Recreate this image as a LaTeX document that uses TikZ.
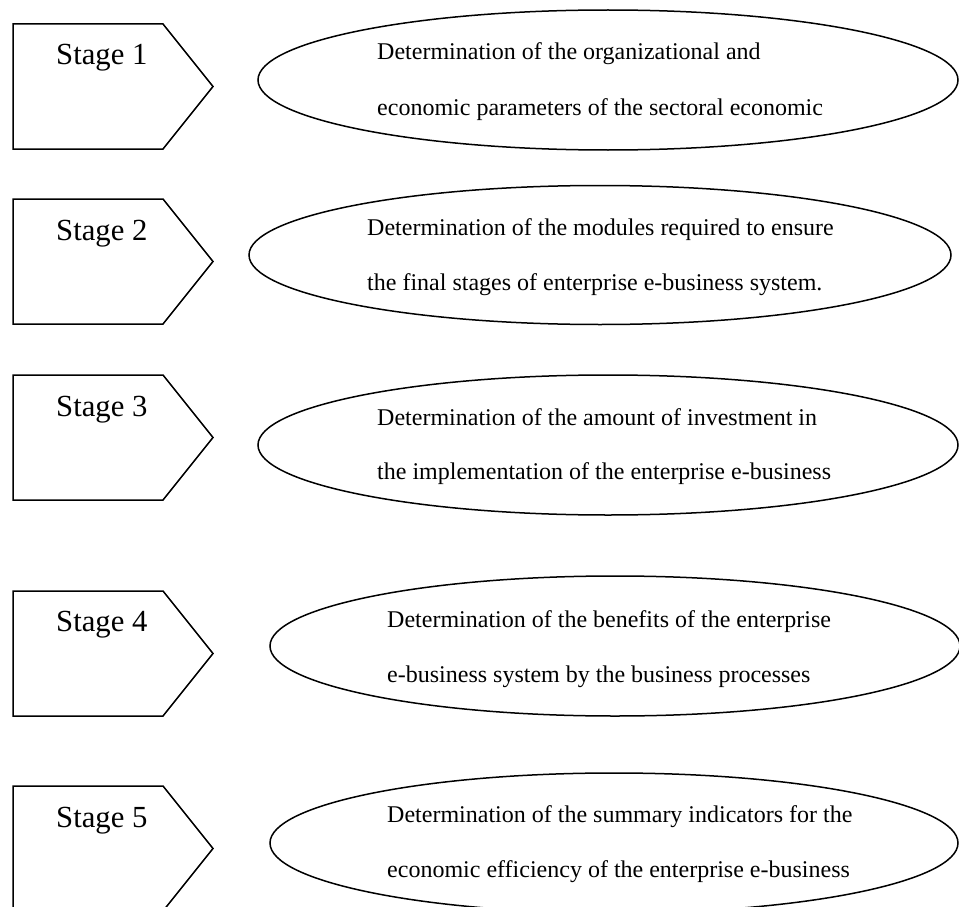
\documentclass[tikz,border=0pt]{standalone}
\usepackage{fontspec}
\setmainfont{Liberation Serif}
\usetikzlibrary{shapes.geometric}
\tikzset{
  stagebox/.style={draw=black, line width=1.5pt, line join=miter},
  stagetext/.style={anchor=base west, inner sep=0pt, font=\fontsize{30.7}{36}\selectfont},
  oval/.style={draw=black, line width=1.5pt, ellipse, inner sep=0pt},
  ovaltext/.style={anchor=base west, inner sep=0pt, font=\fontsize{24}{28}\selectfont}
}
\begin{document}
\begin{tikzpicture}[x=1pt,y=-1pt]
\useasboundingbox (0,0) rectangle (959,907);
\clip (0,0) rectangle (959,907);
\fill[white] (0,0) rectangle (959,907);

% Stage pentagons
\draw[stagebox] (13,24) -- (163,24) -- (213,86.5) -- (163,149) -- (13,149) -- cycle;
\draw[stagebox] (13,199) -- (163,199) -- (213,261.5) -- (163,324) -- (13,324) -- cycle;
\draw[stagebox] (13,375) -- (163,375) -- (213,437.5) -- (163,500) -- (13,500) -- cycle;
\draw[stagebox] (13,591) -- (163,591) -- (213,653.5) -- (163,716) -- (13,716) -- cycle;
\draw[stagebox] (13,786) -- (163,786) -- (213,848.5) -- (163,911) -- (13,911) -- cycle;

\node[stagetext] (s1) at (56,65) {Stage 1};
\node[stagetext] (s2) at (56,240) {Stage 2};
\node[stagetext] (s3) at (56,416) {Stage 3};
\node[stagetext] (s4) at (56,631) {Stage 4};
\node[stagetext] (s5) at (56,827) {Stage 5};

% Ellipses
\node[oval, minimum width=700pt, minimum height=140pt] (e1) at (608,80) {};
\node[oval, minimum width=702pt, minimum height=139pt] (e2) at (600,255) {};
\node[oval, minimum width=700pt, minimum height=140pt] (e3) at (608,445) {};
\node[oval, minimum width=690pt, minimum height=140pt] (e4) at (615,646) {};
\node[oval, minimum width=688pt, minimum height=140pt] (e5) at (614,843) {};

% Ellipse texts
\node[ovaltext] (t1a) at (377,60) {Determination of the organizational and};
\node[ovaltext] (t1b) at (377,115) {economic parameters of the sectoral economic};
\node[ovaltext] (t2a) at (367,235) {Determination of the modules required to ensure};
\node[ovaltext] (t2b) at (367,290) {the final stages of enterprise e-business system.};
\node[ovaltext] (t3a) at (377,425) {Determination of the amount of investment in};
\node[ovaltext] (t3b) at (377,479) {the implementation of the enterprise e-business};
\node[ovaltext] (t4a) at (387,627) {Determination of the benefits of the enterprise};
\node[ovaltext] (t4b) at (387,682) {e-business system by the business processes};
\node[ovaltext] (t5a) at (387,822) {Determination of the summary indicators for the};
\node[ovaltext] (t5b) at (387,877) {economic efficiency of the enterprise e-business};
\end{tikzpicture}
\end{document}
